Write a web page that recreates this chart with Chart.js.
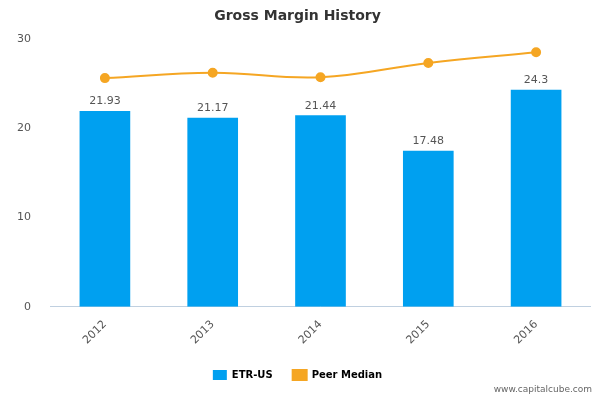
<!DOCTYPE html>
<html>
<head>
<meta charset="utf-8">
<script src="https://cdn.jsdelivr.net/npm/chart.js@4"></script>
<style>
  body { margin: 0; background: #fff; }
  #wrap { position: relative; width: 600px; height: 400px; }
  #credit { position: absolute; right: 8px; bottom: 6px; font: 9px 'DejaVu Sans', sans-serif; color: #666; }
</style>
</head>
<body>
<div id="wrap">
  <canvas id="chart" width="600" height="400"></canvas>
  <div id="credit">www.capitalcube.com</div>
</div>
<script>
const years = ['2012', '2013', '2014', '2015', '2016'];
const etrValues = [21.93, 21.17, 21.44, 17.48, 24.3];
const peerMedian = [25.6, 26.2, 25.7, 27.3, 28.5];
const yTicks = [0, 10, 20, 30];

// Etiquetas de valor encima de las barras
const barLabels = {
    id: 'barLabels',
    afterDatasetsDraw(chart) {
        const ctx = chart.ctx;
        const meta = chart.getDatasetMeta(0);
        ctx.save();
        ctx.font = '11px "DejaVu Sans", sans-serif';
        ctx.fillStyle = '#555';
        ctx.textAlign = 'center';
        ctx.textBaseline = 'bottom';
        meta.data.forEach((bar, i) => {
            ctx.fillText(String(etrValues[i]), bar.x, bar.y - 4);
        });
        ctx.restore();
    }
};

new Chart(document.getElementById('chart'), {
    data: {
        labels: years,
        datasets: [
            {
                type: 'bar',
                label: 'ETR-US',
                data: etrValues,
                backgroundColor: '#00a0f0',
                barPercentage: 0.47,
                categoryPercentage: 1,
                order: 2
            },
            {
                type: 'line',
                label: 'Peer Median',
                data: peerMedian,
                borderColor: '#f5a623',
                backgroundColor: '#f5a623',
                borderWidth: 2,
                pointRadius: 4,
                tension: 0.4,
                order: 1
            }
        ]
    },
    options: {
        responsive: false,
        animation: false,
        layout: { padding: { left: 5, right: 10, top: 0, bottom: 10 } },
        plugins: {
            title: {
                display: true,
                text: 'Gross Margin History',
                color: '#333',
                font: { family: 'DejaVu Sans', size: 14, weight: 'bold' },
                padding: { top: 8, bottom: 14 }
            },
            legend: {
                position: 'bottom',
                labels: {
                    font: { family: 'DejaVu Sans', size: 10, weight: 'bold' },
                    color: '#333',
                    boxWidth: 14,
                    boxHeight: 10,
                    padding: 20,
                    generateLabels(chart) {
                        return [
                            { text: 'ETR-US', fillStyle: '#00a0f0', strokeStyle: '#00a0f0', lineWidth: 0, datasetIndex: 0 },
                            { text: 'Peer Median', fillStyle: '#f5a623', strokeStyle: '#f5a623', lineWidth: 2, pointStyle: 'line', datasetIndex: 1 }
                        ];
                    }
                }
            },
            tooltip: { enabled: false }
        },
        scales: {
            x: {
                grid: { display: false, drawTicks: true },
                border: { color: '#c0d0e0' },
                ticks: {
                    color: '#555',
                    font: { family: 'DejaVu Sans', size: 11 },
                    maxRotation: 45,
                    minRotation: 45
                }
            },
            y: {
                min: 0,
                max: 30,
                afterBuildTicks(axis) { axis.ticks = yTicks.map(v => ({ value: v })); },
                grid: { display: false },
                border: { display: false },
                ticks: { color: '#555', font: { family: 'DejaVu Sans', size: 11 }, padding: 12 }
            }
        }
    },
    plugins: [barLabels]
});
</script>
</body>
</html>
